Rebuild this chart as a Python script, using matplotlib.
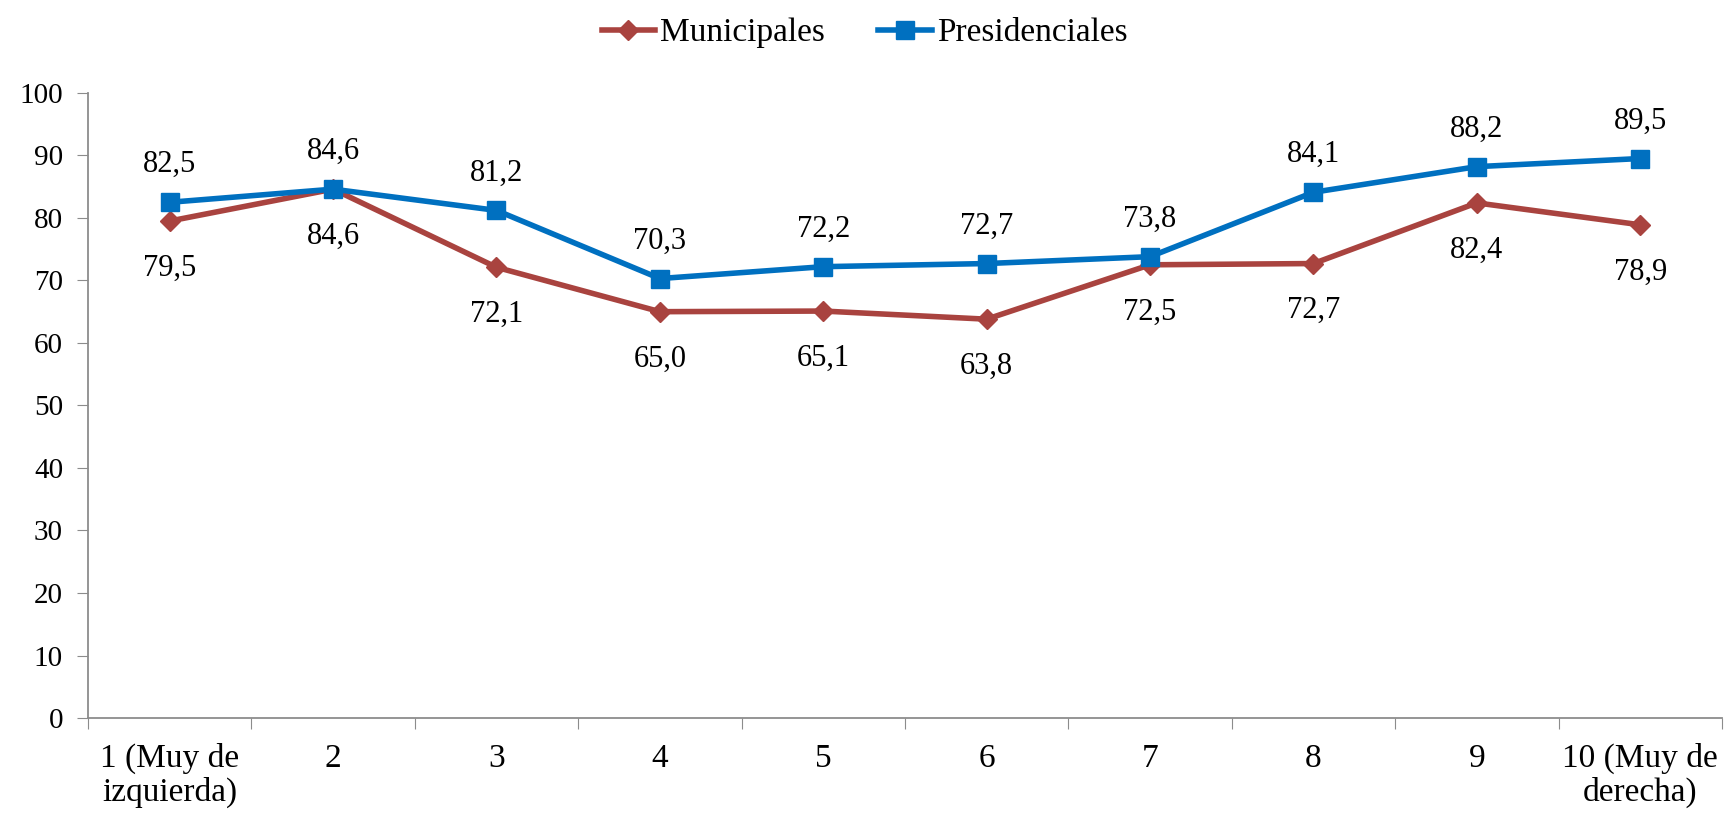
import numpy as np
import matplotlib
matplotlib.use("Agg")
import matplotlib.pyplot as plt
from matplotlib.ticker import FixedLocator, NullFormatter

categories = ["1 (Muy de\nizquierda)", "2", "3", "4", "5", "6", "7", "8", "9", "10 (Muy de\nderecha)"]
municipales = [79.5, 84.6, 72.1, 65.0, 65.1, 63.8, 72.5, 72.7, 82.4, 78.9]
presidenciales = [82.5, 84.6, 81.2, 70.3, 72.2, 72.7, 73.8, 84.1, 88.2, 89.5]

RED = "#A9433F"
BLUE = "#0070C0"
GRAY = "#8C8C8C"

plt.rcParams["font.family"] = ["Liberation Serif", "DejaVu Serif"]

fig = plt.figure(figsize=(17.29, 8.22), dpi=100)
ax = fig.add_axes([0.0509, 0.1265, 0.945, 0.7605])

x = np.arange(1, len(categories) + 1)
ax.plot(x, municipales, color=RED, lw=4, marker="D", ms=10, label="Municipales", zorder=3)
ax.plot(x, presidenciales, color=BLUE, lw=4, marker="s", ms=13, label="Presidenciales", zorder=4)

def fmt(v):
    return f"{v:.1f}".replace(".", ",")

for xi, v in zip(x, municipales):
    ax.annotate(fmt(v), (xi, v), xytext=(0, -34), textcoords="offset points",
                ha="center", va="center", fontsize=22)
for xi, v in zip(x, presidenciales):
    ax.annotate(fmt(v), (xi, v), xytext=(0, 27), textcoords="offset points",
                ha="center", va="center", fontsize=22)

ax.set_xlim(0.5, len(categories) + 0.5)
ax.set_ylim(0, 100)
ax.set_yticks(np.arange(0, 101, 10))
ax.tick_params(axis="y", labelsize=21, length=8, color=GRAY, pad=10)

ax.xaxis.set_major_locator(FixedLocator(np.arange(0.5, len(categories) + 1, 1)))
ax.xaxis.set_major_formatter(NullFormatter())
ax.xaxis.set_minor_locator(FixedLocator(x))
ax.set_xticklabels(categories, minor=True, linespacing=1.1)
ax.tick_params(axis="x", which="minor", length=0, labelsize=24, pad=18)
ax.tick_params(axis="x", which="major", length=8, color=GRAY)

for s in ["top", "right"]:
    ax.spines[s].set_visible(False)
for s in ["left", "bottom"]:
    ax.spines[s].set_color(GRAY)
    ax.spines[s].set_linewidth(1.3)

fig.legend(loc="upper center", bbox_to_anchor=(0.5, 1.015), ncol=2, frameon=False,
           fontsize=24, handlelength=1.6, columnspacing=1.6, handletextpad=0.15)

fig.savefig("out.png", dpi=100)
